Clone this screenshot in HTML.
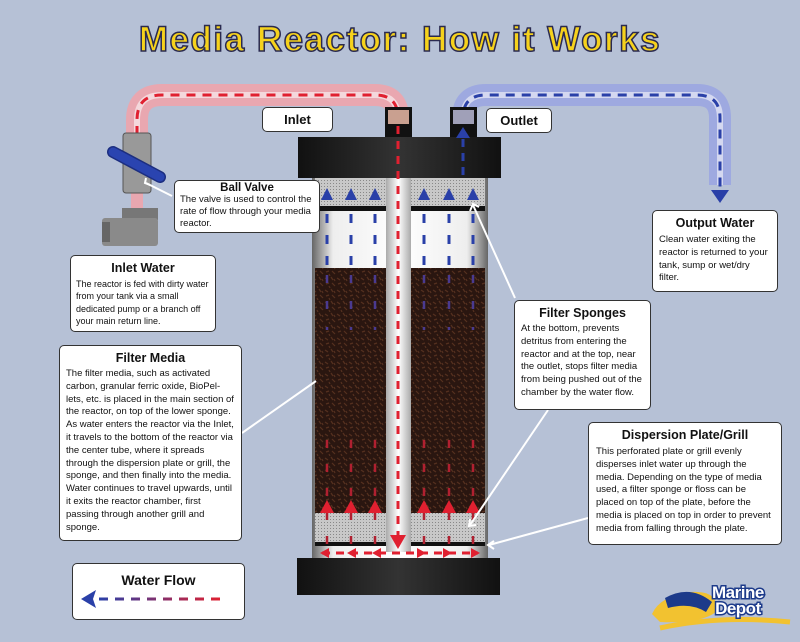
<!DOCTYPE html>
<html><head><meta charset="utf-8"><style>
body{margin:0;width:800px;height:642px;background:#b6c1d6;position:relative;overflow:hidden;font-family:"Liberation Sans",sans-serif}
.b{position:absolute;background:#fff;border:1px solid #333;border-radius:5px;box-sizing:border-box;color:#111}
.b h3{margin:0;font-size:12.5px;text-align:center;font-weight:bold}
.b p{margin:0;font-size:9.5px;line-height:12.8px}
.t{position:absolute;left:0;width:800px;top:20px;text-align:center;font-size:35px;font-weight:bold;color:#f6d21c;-webkit-text-stroke:1.5px #2a2a50;letter-spacing:1.5px}
</style></head><body>
<svg width="800" height="642" style="position:absolute;left:0;top:0">
<defs>
<pattern id="m" width="12" height="12" patternUnits="userSpaceOnUse">
<rect width="12" height="12" fill="#2a1610"/>
<path d="M1 2l3 2M7 1l2 3M2 8l3-1M8 7l3 3M5 10l1 2M10 3l1 2" stroke="#55301f" stroke-width="1.2"/>
</pattern>
<pattern id="s" width="3" height="3" patternUnits="userSpaceOnUse"><rect width="3" height="3" fill="#c8c8c8"/><rect width="1" height="1" fill="#888"/></pattern>
<linearGradient id="cyl" x1="0" x2="1"><stop offset="0" stop-color="#666"/><stop offset=".12" stop-color="#eee"/><stop offset=".5" stop-color="#fff"/><stop offset=".88" stop-color="#eee"/><stop offset="1" stop-color="#666"/></linearGradient>
<linearGradient id="cap" x1="0" x2="1"><stop offset="0" stop-color="#111"/><stop offset=".5" stop-color="#333"/><stop offset="1" stop-color="#111"/></linearGradient>
<linearGradient id="tube" x1="0" x2="1"><stop offset="0" stop-color="#aaa"/><stop offset=".5" stop-color="#fff"/><stop offset="1" stop-color="#aaa"/></linearGradient>
</defs>
<path d="M137 135 V120 Q137 95 162 95 H375 Q398 95 398 118 V125" fill="none" stroke="#e9a7b0" stroke-width="22"/>
<path d="M137 135 V120 Q137 95 162 95 H375 Q398 95 398 118 V125" fill="none" stroke="#f4d8dc" stroke-width="6"/>
<path d="M137 135 V120 Q137 95 162 95 H375 Q398 95 398 118" fill="none" stroke="#e02030" stroke-width="3" stroke-dasharray="9 7"/>
<path d="M463 125 V118 Q463 95 486 95 H697 Q720 95 720 118 V185" fill="none" stroke="#9ea9e0" stroke-width="22"/>
<path d="M463 125 V118 Q463 95 486 95 H697 Q720 95 720 118 V185" fill="none" stroke="#d4d8f0" stroke-width="6"/>
<path d="M463 125 V118 Q463 95 486 95 H697 Q720 95 720 118 V188" fill="none" stroke="#2a40a8" stroke-width="3" stroke-dasharray="9 7"/>
<polygon points="711,190 729,190 720,203" fill="#2a40a8"/>
<polygon points="390,118 406,118 398,128" fill="#e02030"/>
<rect x="131" y="190" width="12" height="20" fill="#e9a7b0"/>
<rect x="123" y="133" width="28" height="60" rx="3" fill="#999" stroke="#555"/>
<line x1="113" y1="152" x2="160" y2="177" stroke="#1c2e80" stroke-width="12" stroke-linecap="round"/>
<line x1="113" y1="152" x2="160" y2="177" stroke="#2a44b0" stroke-width="9" stroke-linecap="round"/>
<rect x="122" y="208" width="36" height="12" fill="#777"/>
<rect x="102" y="218" width="56" height="28" rx="3" fill="#8a8a8a"/>
<rect x="102" y="222" width="8" height="20" fill="#666"/>
<rect x="385" y="107" width="27" height="32" fill="#111"/>
<rect x="450" y="107" width="27" height="32" fill="#111"/>
<rect x="388" y="110" width="21" height="14" fill="#c9a090"/>
<rect x="453" y="110" width="21" height="14" fill="#a0a0b8"/>
<rect x="312" y="177" width="176" height="382" fill="url(#cyl)"/>
<rect x="315" y="177" width="170" height="30" fill="url(#s)"/>
<rect x="315" y="206" width="170" height="5" fill="#111"/>
<rect x="315" y="268" width="170" height="245" fill="url(#m)"/>
<rect x="315" y="513" width="170" height="30" fill="url(#s)"/>
<rect x="315" y="542" width="170" height="4" fill="#111"/>
<rect x="386" y="177" width="25" height="375" fill="url(#tube)"/>
<rect x="298" y="137" width="203" height="41" fill="url(#cap)"/>
<rect x="297" y="558" width="203" height="37" fill="url(#cap)"/>
<line x1="398" y1="126" x2="398" y2="535" stroke="#e02030" stroke-width="3" stroke-dasharray="8 7"/>
<polygon points="390,535 406,535 398,549" fill="#e02030"/>
<line x1="322" y1="553" x2="478" y2="553" stroke="#e02030" stroke-width="3" stroke-dasharray="8 6"/>
<g fill="#e02030"><polygon points="320,553 329,548 329,558"/><polygon points="347,553 356,548 356,558"/><polygon points="372,553 381,548 381,558"/><polygon points="480,553 471,548 471,558"/><polygon points="452,553 443,548 443,558"/><polygon points="426,553 417,548 417,558"/></g>
<line x1="463" y1="175" x2="463" y2="135" stroke="#2a40a8" stroke-width="3" stroke-dasharray="8 6"/>
<polygon points="456,138 470,138 463,127" fill="#2a40a8"/>
<g stroke-width="3">
<g stroke="#2a40a8" stroke-dasharray="9 12"><line x1="327" y1="214" x2="327" y2="268"/><line x1="351" y1="214" x2="351" y2="268"/><line x1="375" y1="214" x2="375" y2="268"/><line x1="424" y1="214" x2="424" y2="268"/><line x1="449" y1="214" x2="449" y2="268"/><line x1="473" y1="214" x2="473" y2="268"/></g>
<g stroke="#4a3a90" stroke-dasharray="8 18" stroke-width="2.5"><line x1="327" y1="275" x2="327" y2="330"/><line x1="351" y1="275" x2="351" y2="330"/><line x1="375" y1="275" x2="375" y2="330"/><line x1="424" y1="275" x2="424" y2="330"/><line x1="449" y1="275" x2="449" y2="330"/><line x1="473" y1="275" x2="473" y2="330"/></g>
<g stroke="#b02030" stroke-dasharray="8 16" stroke-width="2.5"><line x1="327" y1="440" x2="327" y2="545"/><line x1="351" y1="440" x2="351" y2="545"/><line x1="375" y1="440" x2="375" y2="545"/><line x1="424" y1="440" x2="424" y2="545"/><line x1="449" y1="440" x2="449" y2="545"/><line x1="473" y1="440" x2="473" y2="545"/></g>
</g>
<g fill="#2a40a8"><polygon points="321,200 333,200 327,188"/><polygon points="345,200 357,200 351,188"/><polygon points="369,200 381,200 375,188"/><polygon points="418,200 430,200 424,188"/><polygon points="443,200 455,200 449,188"/><polygon points="467,200 479,200 473,188"/></g>
<g fill="#e02030"><polygon points="320,513 334,513 327,500"/><polygon points="344,513 358,513 351,500"/><polygon points="368,513 382,513 375,500"/><polygon points="417,513 431,513 424,500"/><polygon points="442,513 456,513 449,500"/><polygon points="466,513 480,513 473,500"/></g>
<g stroke="#fff" stroke-width="2" fill="none">
<line x1="172" y1="196" x2="146" y2="183"/><polyline points="146,178 145,183 150,185"/>
<line x1="515" y1="298" x2="473" y2="205"/><polyline points="470,211 473,204 479,207"/>
<line x1="548" y1="410" x2="470" y2="525"/><polyline points="470,519 469,526 476,525"/>
<line x1="588" y1="518" x2="489" y2="545"/><polyline points="494,541 488,545 494,549"/>
<line x1="242" y1="433" x2="316" y2="381"/>
</g>
<path d="M652 614 Q660 596 690 592 Q720 590 716 612 Q700 624 660 622 Z" fill="#f2c230"/>
<path d="M665 598 Q690 584 712 602 L706 612 Q690 602 668 608 Z" fill="#1c3a8a"/>
<path d="M660 628 Q720 615 790 622" stroke="#f2c230" stroke-width="5" fill="none"/>
</svg>
<div class="t">Media Reactor: How it Works</div>
<div class="b" style="left:262px;top:107px;width:71px;height:25px"><h3 style="line-height:23px;font-size:13px">Inlet</h3></div>
<div class="b" style="left:486px;top:108px;width:66px;height:25px"><h3 style="line-height:23px;font-size:13px">Outlet</h3></div>
<div class="b" style="left:174px;top:180px;width:146px;height:53px;padding:1px 5px"><h3 style="font-size:11.5px">Ball Valve</h3><p style="font-size:9.5px;line-height:12px">The valve is used to control the rate of flow through your media reactor.</p></div>
<div class="b" style="left:652px;top:210px;width:126px;height:82px;padding:5px 6px"><h3>Output Water</h3><p style="margin-top:4px">Clean water exiting the reactor is returned to your tank, sump or wet/dry filter.</p></div>
<div class="b" style="left:70px;top:255px;width:146px;height:77px;padding:5px 5px"><h3>Inlet Water</h3><p style="margin-top:3px;font-size:9px;line-height:12.3px">The reactor is fed with dirty water from your tank via a small dedicated pump or a branch off your main return line.</p></div>
<div class="b" style="left:514px;top:300px;width:137px;height:110px;padding:5px 6px"><h3>Filter Sponges</h3><p style="margin-top:3px">At the bottom, prevents detritus from entering the reactor and at the top, near the outlet, stops filter media from being pushed out of the chamber by the water flow.</p></div>
<div class="b" style="left:59px;top:345px;width:183px;height:196px;padding:5px 6px"><h3>Filter Media</h3><p style="margin-top:3px">The filter media, such as activated carbon, granular ferric oxide, BioPel-lets, etc. is placed in the main section of the reactor, on top of the lower sponge. As water enters the reactor via the Inlet, it travels to the bottom of the reactor via the center tube, where it spreads through the dispersion plate or grill, the sponge, and then finally into the media. Water continues to travel upwards, until it exits the reactor chamber, first passing through another grill and sponge.</p></div>
<div class="b" style="left:588px;top:422px;width:194px;height:123px;padding:5px 7px"><h3>Dispersion Plate/Grill</h3><p style="margin-top:4px">This perforated plate or grill evenly disperses inlet water up through the media. Depending on the type of media used, a filter sponge or floss can be placed on top of the plate, before the media is placed on top in order to prevent media from falling through the plate.</p></div>
<div class="b" style="left:72px;top:563px;width:173px;height:57px;background:#fff;padding-top:8px"><h3 style="font-size:14px">Water Flow</h3>
<svg width="173" height="30" style="position:absolute;left:0;top:22px"><defs><linearGradient id="wf2" gradientUnits="userSpaceOnUse" x1="26" x2="148"><stop offset="0" stop-color="#2a40a8"/><stop offset="1" stop-color="#e02030"/></linearGradient></defs><line x1="26" y1="13" x2="148" y2="13" stroke="url(#wf2)" stroke-width="3" stroke-dasharray="9 7"/><polygon points="8,13 23,4 20,13 23,22" fill="#2a40a8"/></svg></div>
<div style="position:absolute;left:712px;top:585px;font-size:17px;font-weight:bold;color:#fff;-webkit-text-stroke:3px #1c3a8a;paint-order:stroke;line-height:16px;text-align:center;letter-spacing:-0.5px">Marine<br>Depot</div>
</body></html>
